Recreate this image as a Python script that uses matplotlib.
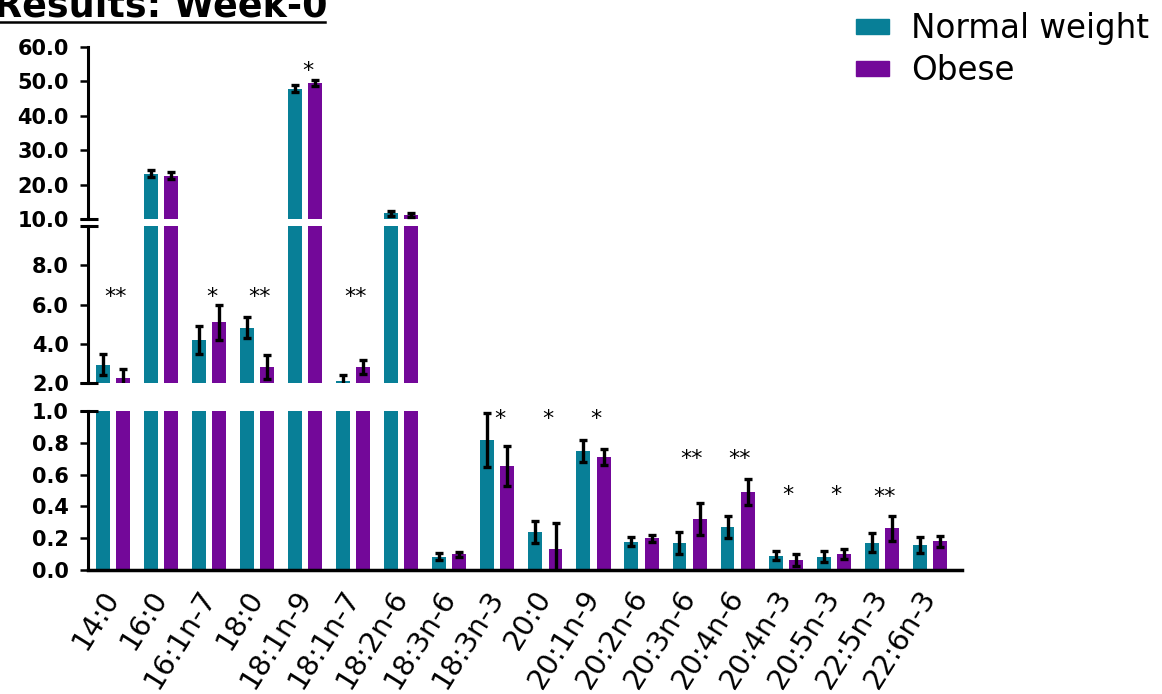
import matplotlib
matplotlib.use("Agg")
import matplotlib.pyplot as plt
from matplotlib.patches import Patch
from matplotlib.lines import Line2D
import numpy as np

W, H = 1162, 694

categories = ["14:0", "16:0", "16:1n-7", "18:0", "18:1n-9", "18:1n-7", "18:2n-6",
              "18:3n-6", "18:3n-3", "20:0", "20:1n-9", "20:2n-6", "20:3n-6",
              "20:4n-6", "20:4n-3", "20:5n-3", "22:5n-3", "22:6n-3"]
normal = [2.93, 23.2, 4.19, 4.82, 47.9, 2.12, 11.7, 0.084, 0.82, 0.237, 0.748,
          0.178, 0.172, 0.272, 0.09, 0.084, 0.172, 0.16]
normal_err = [0.54, 0.9, 0.7, 0.52, 1.0, 0.3, 0.7, 0.02, 0.17, 0.07, 0.07,
              0.028, 0.07, 0.07, 0.03, 0.035, 0.06, 0.05]
obese = [2.28, 22.6, 5.1, 2.81, 49.5, 2.81, 11.2, 0.099, 0.654, 0.13, 0.709,
         0.2, 0.32, 0.49, 0.063, 0.10, 0.262, 0.18]
obese_err = [0.43, 1.0, 0.9, 0.6, 0.9, 0.35, 0.5, 0.015, 0.125, 0.165, 0.05,
             0.022, 0.10, 0.08, 0.04, 0.03, 0.08, 0.034]
signif = ["**", "", "*", "**", "*", "**", "", "", "*", "*", "*", "", "**", "**",
          "*", "*", "**", ""]
signif_y = [6.72, None, 6.72, 6.72, 55.0, 6.72, None, None, 0.99, 0.99, 0.99,
            None, 0.74, 0.74, 0.51, 0.51, 0.50, None]

teal = "#087f97"
purple = "#730899"

def fx(px):
    return px / W

def fy(px):
    return 1 - px / H

fig = plt.figure(figsize=(W / 100, H / 100), dpi=100)

left, right = 88, 962
# (top px, bottom px, ylim, ticks)
segments = [
    (47, 219, (10, 60), [10, 20, 30, 40, 50, 60]),
    (226, 383, (2, 10), [2, 4, 6, 8]),
    (411, 570, (0, 1), [0, 0.2, 0.4, 0.6, 0.8, 1.0]),
]

x = np.arange(len(categories))
off, bw = 0.21, 0.29
axes = []
for top, bot, ylim, ticks in segments:
    ax = fig.add_axes([fx(left), fy(bot), fx(right - left), (bot - top) / H])
    ax.bar(x - off, normal, bw, color=teal, zorder=2)
    ax.bar(x + off, obese, bw, color=purple, zorder=2)
    ax.errorbar(x - off, normal, yerr=normal_err, fmt="none", ecolor="black",
                elinewidth=2.4, capsize=3, capthick=2.4, zorder=3)
    ax.errorbar(x + off, obese, yerr=obese_err, fmt="none", ecolor="black",
                elinewidth=2.4, capsize=3, capthick=2.4, zorder=3)
    ax.set_xlim(-0.52, len(categories) - 0.33)
    ax.set_ylim(*ylim)
    ax.set_yticks(ticks)
    ax.set_yticklabels([f"{t:.1f}" for t in ticks], fontsize=15, fontweight="bold")
    for s in ["top", "right"]:
        ax.spines[s].set_visible(False)
    ax.spines["left"].set_linewidth(2.2)
    ax.spines["bottom"].set_visible(False)
    ax.tick_params(axis="y", direction="out", length=5.8, width=1.8, pad=8)
    ax.tick_params(axis="x", length=0)
    ax.set_xticks([])
    axes.append(ax)

ax_top, ax_mid, ax_bot = axes
ax_bot.spines["bottom"].set_visible(True)
ax_bot.spines["bottom"].set_linewidth(2.5)
ax_bot.set_xticks(x)
ax_bot.set_xticklabels(categories, rotation=58, ha="right", va="center",
                       rotation_mode="anchor", fontsize=20.5)
ax_bot.tick_params(axis="x", length=0, pad=16)

# break caps crossing the spine
cap = dict(color="black", lw=2.2, solid_capstyle="butt", clip_on=False)
dl, dr = -8 / (right - left), 10 / (right - left)
ax_top.plot([dl, dr], [10, 10], transform=ax_top.get_yaxis_transform(), **cap)
ax_mid.plot([dl, dr], [10, 10], transform=ax_mid.get_yaxis_transform(), **cap)
ax_mid.plot([dl, dr], [2, 2], transform=ax_mid.get_yaxis_transform(), **cap)
ax_bot.plot([dl, dr], [1, 1], transform=ax_bot.get_yaxis_transform(), **cap)

# significance stars
for i, (s, yv) in enumerate(zip(signif, signif_y)):
    if not s:
        continue
    ax = ax_top if yv > 10 else (ax_mid if yv > 2 else ax_bot)
    ax.annotate(s, (x[i] + 0.05, yv), xytext=(0, -9), textcoords="offset points",
                ha="center", va="baseline", fontsize=16, annotation_clip=False)

# title (cut off at the top edge, as in the original)
fig.text(fx(-6), fy(16.7), "Results: Week-0", fontsize=26.3, fontweight="bold",
         ha="left", va="baseline")
fig.add_artist(Line2D([0, fx(325)], [fy(21.5), fy(21.5)], color="black", lw=1.8,
                      transform=fig.transFigure))

handles = [Patch(color=teal, label="Normal weight"), Patch(color=purple, label="Obese")]
fig.legend(handles=handles, loc="upper left", bbox_to_anchor=(fx(856), fy(12)),
           frameon=False, fontsize=23.5, handlelength=1.0, handleheight=0.34,
           handletextpad=0.68, labelspacing=0.28, borderpad=0, borderaxespad=0)

fig.savefig("out.png", dpi=100)
